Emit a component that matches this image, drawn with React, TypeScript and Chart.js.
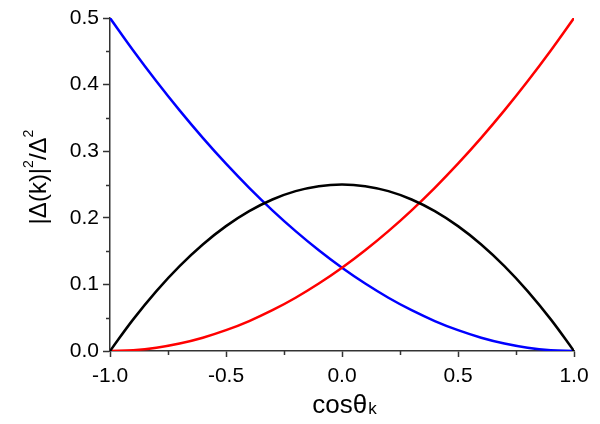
import React, { useEffect, useRef } from "react";
import { Chart, registerables } from "chart.js";

Chart.register(...registerables);

const xValues = [-1, -0.9, -0.8, -0.7, -0.6, -0.5, -0.4, -0.3, -0.2, -0.1, 0, 0.1, 0.2, 0.3, 0.4, 0.5, 0.6, 0.7, 0.8, 0.9, 1];
const redValues = [0, 0.00125, 0.005, 0.01125, 0.02, 0.03125, 0.045, 0.06125, 0.08, 0.10125, 0.125, 0.15125, 0.18, 0.21125, 0.245, 0.28125, 0.32, 0.36125, 0.405, 0.45125, 0.5];
const blueValues = [0.5, 0.45125, 0.405, 0.36125, 0.32, 0.28125, 0.245, 0.21125, 0.18, 0.15125, 0.125, 0.10125, 0.08, 0.06125, 0.045, 0.03125, 0.02, 0.01125, 0.005, 0.00125, 0];
const blackValues = [0, 0.0475, 0.09, 0.1275, 0.16, 0.1875, 0.21, 0.2275, 0.24, 0.2475, 0.25, 0.2475, 0.24, 0.2275, 0.21, 0.1875, 0.16, 0.1275, 0.09, 0.0475, 0];
const xMinorTicks = [-0.75, -0.25, 0.25, 0.75];
const yMinorTicks = [0.05, 0.15, 0.25, 0.35, 0.45];

const FONT = "'Liberation Sans', Arial, sans-serif";
const AXIS_COLOR = "#333333";

const pts = (ys: number[]) => xValues.map((x, i) => ({ x, y: ys[i] }));

const decorPlugin = {
  id: "decor",
  afterDraw(chart: any) {
    const ctx = chart.ctx as CanvasRenderingContext2D;
    const xs = chart.scales.x;
    const ys = chart.scales.y;
    const area = chart.chartArea;
    ctx.save();
    ctx.strokeStyle = AXIS_COLOR;
    ctx.lineWidth = 1.5;
    ctx.beginPath();
    for (const v of xMinorTicks) {
      const px = Math.round(xs.getPixelForValue(v)) + 0.5;
      ctx.moveTo(px, area.bottom);
      ctx.lineTo(px, area.bottom + 4);
    }
    for (const v of yMinorTicks) {
      const py = Math.round(ys.getPixelForValue(v)) + 0.5;
      ctx.moveTo(area.left, py);
      ctx.lineTo(area.left - 4, py);
    }
    ctx.stroke();

    // X title: cosθ with subscript k
    ctx.fillStyle = "#000";
    ctx.textBaseline = "alphabetic";
    ctx.textAlign = "left";
    const xMain = "cos\u03b8";
    const xSize = 26;
    const subSize = 17;
    ctx.font = `${xSize}px ${FONT}`;
    const wMain = ctx.measureText(xMain).width;
    ctx.font = `${subSize}px ${FONT}`;
    const wSub = ctx.measureText("k").width;
    const cx = (area.left + area.right) / 2 + 2;
    const sx = cx - (wMain + wSub) / 2;
    const baseY = 413;
    ctx.font = `${xSize}px ${FONT}`;
    ctx.fillText(xMain, sx, baseY);
    ctx.font = `${subSize}px ${FONT}`;
    ctx.fillText("k", sx + wMain + 1, baseY + 1);

    // Y title rotated
    const ySize = 24;
    const supSize = 14;
    const parts: { t: string; sup: boolean }[] = [
      { t: "|\u0394(k)|", sup: false },
      { t: "2", sup: true },
      { t: "/\u0394", sup: false },
      { t: "2", sup: true },
    ];
    let total = 0;
    const widths = parts.map((p) => {
      ctx.font = `${p.sup ? supSize : ySize}px ${FONT}`;
      const w = ctx.measureText(p.t).width;
      total += w;
      return w;
    });
    ctx.translate(46, 177);
    ctx.rotate(-Math.PI / 2);
    let px = -total / 2;
    parts.forEach((p, i) => {
      ctx.font = `${p.sup ? supSize : ySize}px ${FONT}`;
      ctx.fillText(p.t, px, p.sup ? -13 : 0);
      px += widths[i];
    });
    ctx.restore();
  },
};

export default function App() {
  const ref = useRef<HTMLCanvasElement | null>(null);
  useEffect(() => {
    if (!ref.current) return;
    const chart = new Chart(ref.current, {
      type: "line",
      data: {
        datasets: [
          { data: pts(blackValues), borderColor: "#000000", borderWidth: 2.5, pointRadius: 0, tension: 0.4, fill: false },
          { data: pts(redValues), borderColor: "#ff0000", borderWidth: 2.5, pointRadius: 0, tension: 0.4, fill: false },
          { data: pts(blueValues), borderColor: "#0000ff", borderWidth: 2.5, pointRadius: 0, tension: 0.4, fill: false },
        ],
      },
      options: {
        animation: false,
        responsive: false,
        maintainAspectRatio: false,
        layout: { padding: { top: 18, right: 26, left: 0, bottom: 0 } },
        plugins: { legend: { display: false }, tooltip: { enabled: false } },
        scales: {
          x: {
            type: "linear",
            min: -1,
            max: 1,
            afterFit: (s: any) => { s.height = 73; },
            ticks: {
              stepSize: 0.5,
              color: "#000",
              font: { family: FONT, size: 21 },
              padding: 7,
              maxRotation: 0,
              callback: (v: any) => Number(v).toFixed(1),
            },
            grid: { display: true, drawOnChartArea: false, drawTicks: true, tickLength: 6, tickColor: AXIS_COLOR, tickWidth: 1.5 },
            border: { display: true, color: AXIS_COLOR, width: 1.5 },
          },
          y: {
            type: "linear",
            min: 0,
            max: 0.5,
            afterFit: (s: any) => { s.width = 110; },
            ticks: {
              stepSize: 0.1,
              color: "#000",
              font: { family: FONT, size: 21 },
              padding: 4,
              callback: (v: any) => Number(v).toFixed(1),
            },
            grid: { display: true, drawOnChartArea: false, drawTicks: true, tickLength: 7, tickColor: AXIS_COLOR, tickWidth: 1.5 },
            border: { display: true, color: AXIS_COLOR, width: 1.5 },
          },
        },
      },
      plugins: [decorPlugin],
    });
    return () => chart.destroy();
  }, []);
  return (
    <div style={{ position: "absolute", left: 0, top: 0, width: 600, height: 424, background: "#fff" }}>
      <canvas ref={ref} width={600} height={424} style={{ width: 600, height: 424 }} />
    </div>
  );
}
